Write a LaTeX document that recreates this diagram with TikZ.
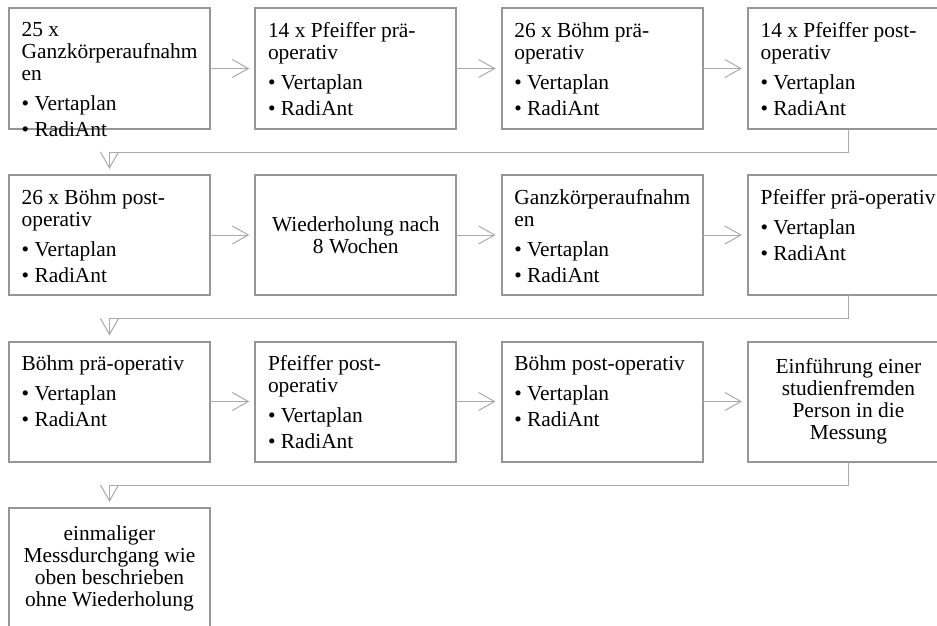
\documentclass[tikz,border=0pt]{standalone}
\usepackage{fontspec}
\setmainfont{Liberation Serif}
\usetikzlibrary{arrows.meta,calc}

\definecolor{boxgray}{RGB}{150,150,150}
\definecolor{linegray}{RGB}{170,170,170}

\tikzset{
  flowbox/.style={draw=boxgray,line width=2pt,minimum width=201pt,minimum height=120pt,inner sep=0pt,outer sep=0pt},
  boxtext/.style={font=\fontsize{21.4pt}{22pt}\selectfont,align=left,inner sep=0pt,anchor=north west,execute at begin node=\strut},
  midtext/.style={font=\fontsize{21.4pt}{22pt}\selectfont,align=center,inner sep=0pt},
  conn/.style={draw=linegray,line width=1pt,-{Straight Barb[length=16pt,width=18pt]},shorten >=6pt},
}

\begin{document}
\begin{tikzpicture}[x=1pt,y=1pt]
  \useasboundingbox (0,0) rectangle (937,-626);
  \clip (0,0) rectangle (937,-626);

  % boxes, four per row
  \foreach \n/\c/\r in {b1/0/0,b2/1/0,b3/2/0,b4/3/0,
                        b5/0/1,b6/1/1,b7/2/1,b8/3/1,
                        b9/0/2,b10/1/2,b11/2/2,b12/3/2,
                        b13/0/3}{
    \node[flowbox] (\n) at (109.5+246.3*\c,-68.5-166.5*\r) {};
  }

  % texts
  \node[boxtext] (t1) at ($(b1.north west)+(12.5,-14.1)$) {25 x\\Ganzkörperaufnahm\\en\\[8pt]• Vertaplan\\[4pt]• RadiAnt};
  \node[boxtext] (t2) at ($(b2.north west)+(12.5,-14.1)$) {14 x Pfeiffer prä-\\operativ\\[8pt]• Vertaplan\\[4pt]• RadiAnt};
  \node[boxtext] (t3) at ($(b3.north west)+(12.5,-14.1)$) {26 x Böhm prä-\\operativ\\[8pt]• Vertaplan\\[4pt]• RadiAnt};
  \node[boxtext] (t4) at ($(b4.north west)+(12.5,-14.1)$) {14 x Pfeiffer post-\\operativ\\[8pt]• Vertaplan\\[4pt]• RadiAnt};
  \node[boxtext] (t5) at ($(b5.north west)+(12.5,-14.1)$) {26 x Böhm post-\\operativ\\[8pt]• Vertaplan\\[4pt]• RadiAnt};
  \node[midtext] (t6) at (b6) {Wiederholung nach\\8 Wochen};
  \node[boxtext] (t7) at ($(b7.north west)+(12.5,-14.1)$) {Ganzkörperaufnahm\\en\\[8pt]• Vertaplan\\[4pt]• RadiAnt};
  \node[boxtext] (t8) at ($(b8.north west)+(12.5,-14.1)$) {Pfeiffer prä-operativ\\[8pt]• Vertaplan\\[4pt]• RadiAnt};
  \node[boxtext] (t9) at ($(b9.north west)+(12.5,-14.1)$) {Böhm prä-operativ\\[8pt]• Vertaplan\\[4pt]• RadiAnt};
  \node[boxtext] (t10) at ($(b10.north west)+(12.5,-14.1)$) {Pfeiffer post-\\operativ\\[8pt]• Vertaplan\\[4pt]• RadiAnt};
  \node[boxtext] (t11) at ($(b11.north west)+(12.5,-14.1)$) {Böhm post-operativ\\[8pt]• Vertaplan\\[4pt]• RadiAnt};
  \node[midtext] (t12) at (b12) {Einführung einer\\studienfremden\\Person in die\\Messung};
  \node[midtext] (t13) at (b13) {einmaliger\\Messdurchgang wie\\oben beschrieben\\ohne Wiederholung};

  % arrows within a row
  \foreach \a/\b in {b1/b2,b2/b3,b3/b4,b5/b6,b6/b7,b7/b8,b9/b10,b10/b11,b11/b12}
    \draw[conn] (\a.east) -- (\b.west);
  % arrows to the next row
  \foreach \a/\b in {b4/b5,b8/b9,b12/b13}
    \draw[conn] (\a.south) -- ++(0,-23.5) -| (\b.north);
\end{tikzpicture}
\end{document}
